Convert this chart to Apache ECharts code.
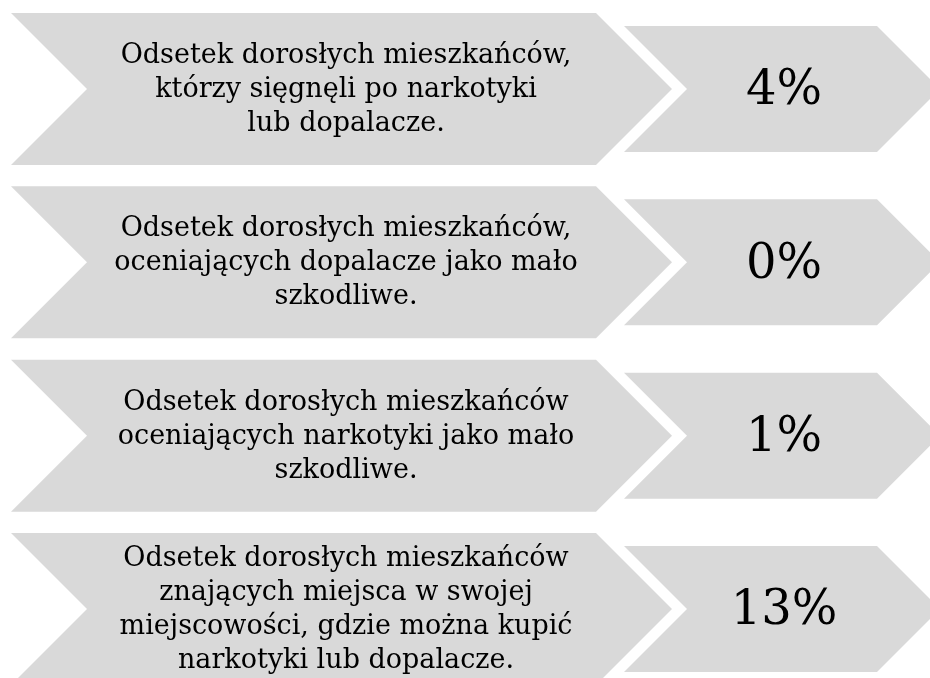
<!DOCTYPE html>
<html>
<head>
<meta charset="utf-8">
<script src="https://cdn.jsdelivr.net/npm/echarts@6/dist/echarts.min.js"></script>
<style>
html,body{margin:0;padding:0;background:#fff;}
#chart{width:930px;height:678px;}
</style>
</head>
<body>
<div id="chart"></div>
<script>
// Data
const categories = [
  "Odsetek dorosłych mieszkańców,\nktórzy sięgnęli po narkotyki\nlub dopalacze.",
  "Odsetek dorosłych mieszkańców,\noceniających dopalacze jako mało\nszkodliwe.",
  "Odsetek dorosłych mieszkańców\noceniających narkotyki jako mało\nszkodliwe.",
  "Odsetek dorosłych mieszkańców\nznających miejsca w swojej\nmiejscowości, gdzie można kupić\nnarkotyki lub dopalacze."
];
const values = [4, 0, 1, 13];

const chart = echarts.init(document.getElementById('chart'), null, {renderer: 'canvas'});
const FILL = '#d9d9d9';
const FONT = '"DejaVu Serif", serif';

function renderItem(params, api) {
  const idx = api.value(1);
  const val = api.value(0);
  const cy = api.coord([0, idx])[1];
  const hL = 76, hS = 63;
  const big = [[11, cy - hL], [596, cy - hL], [672, cy], [596, cy + hL], [11, cy + hL], [87, cy]];
  const small = [[624, cy - hS], [877, cy - hS], [940, cy], [877, cy + hS], [624, cy + hS], [687, cy]];
  return {
    type: 'group',
    children: [
      {type: 'polygon', shape: {points: big}, style: {fill: FILL}},
      {type: 'polygon', shape: {points: small}, style: {fill: FILL}},
      {type: 'text', style: {
        text: categories[idx], x: 346, y: cy + 1, align: 'center', verticalAlign: 'middle',
        font: '27px ' + FONT, lineHeight: 34, fill: '#000'
      }},
      {type: 'text', style: {
        text: val + '%', x: 784, y: cy + 3, align: 'center', verticalAlign: 'middle',
        font: '48px ' + FONT, fill: '#000'
      }}
    ]
  };
}

chart.setOption({
  animation: false,
  backgroundColor: '#fff',
  grid: {left: 0, right: 0, top: 0, bottom: 0, containLabel: false},
  xAxis: {type: 'value', min: 0, max: 930, show: false},
  yAxis: {type: 'value', inverse: true, min: -0.5135, max: 3.398, show: false},
  series: [{
    type: 'custom',
    renderItem: renderItem,
    clip: false,
    encode: {x: 0, y: 1},
    data: values.map((v, i) => [v, i])
  }]
});
</script>
</body>
</html>
